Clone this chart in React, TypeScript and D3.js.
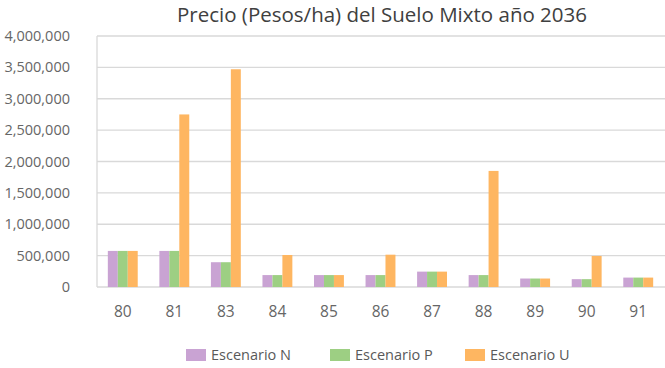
import { useEffect, useRef } from 'react';
import * as d3 from 'd3';

const categories = ['80', '81', '83', '84', '85', '86', '87', '88', '89', '90', '91'];
const seriesNames = ['Escenario N', 'Escenario P', 'Escenario U'];
const escenarioN = [575000, 575000, 395000, 190000, 190000, 190000, 245000, 190000, 135000, 125000, 150000];
const escenarioP = [575000, 575000, 395000, 190000, 190000, 190000, 245000, 190000, 135000, 125000, 150000];
const escenarioU = [575000, 2750000, 3470000, 510000, 190000, 515000, 245000, 1850000, 135000, 495000, 150000];
const yTicks = [0, 500000, 1000000, 1500000, 2000000, 2500000, 3000000, 3500000, 4000000];
const colors = ['#c9a3d3', '#9dcf83', '#feb661'];

export default function App() {
  const ref = useRef<SVGSVGElement>(null);

  useEffect(() => {
    const svg = d3.select(ref.current);
    svg.selectAll('*').remove();
    const width = 665;
    const height = 368;
    const margin = { top: 36, right: 1, bottom: 81, left: 97 };
    const font = '"Open Sans", sans-serif';

    const x = d3.scaleBand()
      .domain(categories)
      .range([margin.left, width - margin.right])
      .paddingInner(0.42)
      .paddingOuter(0.21);
    const inner = d3.scaleBand()
      .domain(seriesNames)
      .range([0, x.bandwidth()]);
    const y = d3.scaleLinear()
      .domain([0, 4000000])
      .range([height - margin.bottom, margin.top]);

    // title
    svg.append('text')
      .attr('x', 382)
      .attr('y', 22)
      .attr('text-anchor', 'middle')
      .style('font-family', font)
      .style('font-size', '20.5px')
      .attr('fill', '#404040')
      .text('Precio (Pesos/ha) del Suelo Mixto año 2036');

    // grid
    svg.append('g').selectAll('line').data(yTicks).join('line')
      .attr('x1', margin.left)
      .attr('x2', width)
      .attr('y1', d => y(d))
      .attr('y2', d => y(d))
      .attr('stroke', '#d9d9d9')
      .attr('stroke-width', 1.3);
    svg.append('line')
      .attr('x1', margin.left).attr('x2', margin.left)
      .attr('y1', y(4000000)).attr('y2', y(0))
      .attr('stroke', '#d9d9d9')
      .attr('stroke-width', 1.3);

    // y labels
    svg.append('g').selectAll('text').data(yTicks).join('text')
      .attr('x', 70)
      .attr('y', d => y(d) + 5)
      .attr('text-anchor', 'end')
      .style('font-family', font)
      .style('font-size', '14.5px')
      .attr('fill', '#666')
      .text(d => d3.format(',')(d));

    // bars
    const series = [escenarioN, escenarioP, escenarioU];
    series.forEach((vals, si) => {
      svg.append('g').selectAll('rect').data(vals).join('rect')
        .attr('x', (d, i) => (x(categories[i]) as number) + (inner(seriesNames[si]) as number))
        .attr('y', d => y(d))
        .attr('width', inner.bandwidth())
        .attr('height', d => y(0) - y(d))
        .attr('fill', colors[si]);
    });

    // x labels
    svg.append('g').selectAll('text').data(categories).join('text')
      .attr('x', d => (x(d) as number) + x.bandwidth() / 2)
      .attr('y', 317)
      .attr('text-anchor', 'middle')
      .style('font-family', font)
      .style('font-size', '15.5px')
      .attr('fill', '#666')
      .text(d => d);

    // legend
    const legendX = [186, 330, 465];
    const legend = svg.append('g').selectAll('g').data(seriesNames).join('g')
      .attr('transform', (d, i) => `translate(${legendX[i]},349)`);
    legend.append('rect')
      .attr('width', 20)
      .attr('height', 12)
      .attr('fill', (d, i) => colors[i]);
    legend.append('text')
      .attr('x', 25)
      .attr('y', 11)
      .style('font-family', font)
      .style('font-size', '14.5px')
      .attr('fill', '#595959')
      .text(d => d);
  }, []);

  return (
    <svg
      ref={ref}
      width={665}
      height={368}
      style={{ position: 'absolute', left: 0, top: 0 }}
    />
  );
}
